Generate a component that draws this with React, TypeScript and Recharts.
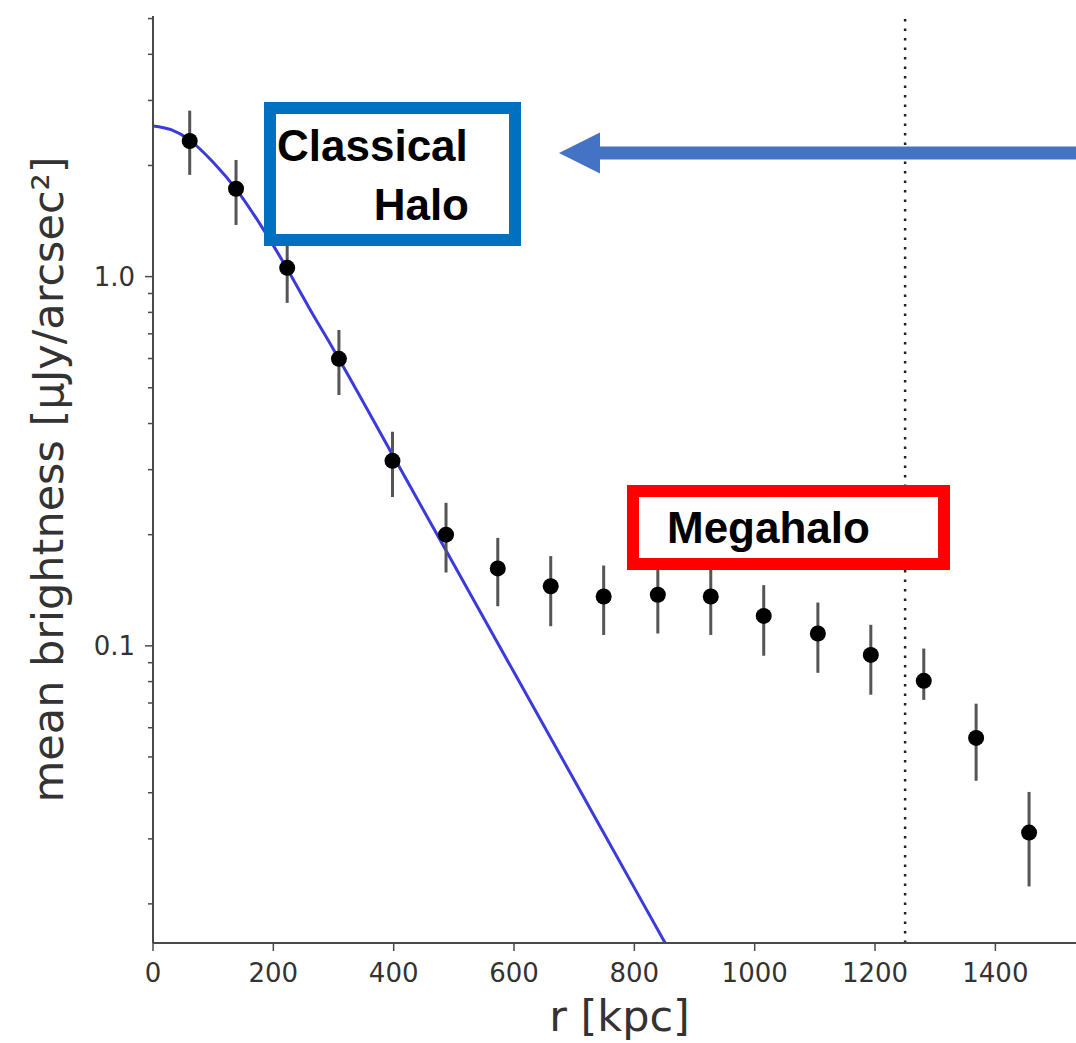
import { ComposedChart, Line, Scatter, ErrorBar, XAxis, YAxis, ReferenceLine } from "recharts";

// stacked radial profile: bins in kpc, brightness in uJy/arcsec^2
const radiusKpc = [61, 138, 223, 309, 398, 487, 573, 661, 749, 839, 927, 1015, 1105, 1193, 1281, 1368, 1456];
const meanBrightness = [2.33, 1.73, 1.056, 0.599, 0.317, 0.2, 0.162, 0.145, 0.136, 0.1375, 0.136, 0.1205, 0.108, 0.0945, 0.0804, 0.0563, 0.0312];
const brightnessLow = [1.886, 1.38, 0.849, 0.478, 0.253, 0.158, 0.128, 0.113, 0.107, 0.108, 0.107, 0.094, 0.0845, 0.0737, 0.0714, 0.0431, 0.0223];
const brightnessHigh = [2.815, 2.07, 1.313, 0.717, 0.38, 0.244, 0.196, 0.175, 0.165, 0.166, 0.166, 0.146, 0.131, 0.114, 0.0983, 0.0697, 0.0402];

// classical halo model curve
const fitRadius = [0, 30, 60, 100, 140, 180, 220, 260, 300, 400, 500, 600, 700, 800, 851];
const fitBrightness = [2.56, 2.5, 2.35, 2.04, 1.71, 1.37, 1.07, 0.82, 0.635, 0.325, 0.166, 0.0848, 0.0433, 0.0221, 0.0157];

const xTicks = [0, 200, 400, 600, 800, 1000, 1200, 1400];
const yMajorTicks = [0.1, 1];
const yMinorTicks = [0.02, 0.03, 0.04, 0.05, 0.06, 0.07, 0.08, 0.09, 0.2, 0.3, 0.4, 0.5, 0.6, 0.7, 0.8, 0.9, 2, 3, 4, 5];
const megahaloEdge = 1250;

const points = radiusKpc.map((r, i) => ({
  r,
  v: meanBrightness[i],
  err: [meanBrightness[i] - brightnessLow[i], brightnessHigh[i] - meanBrightness[i]],
}));
const fit = fitRadius.map((r, i) => ({ r, v: fitBrightness[i] }));

const axisColor = "#4a4a4a";
const textColor = "#333";
const tickFont = "DejaVu Sans, sans-serif";

function YTick(props: any) {
  const { x, y, payload } = props;
  const major = yMajorTicks.includes(payload.value);
  return (
    <g>
      <line x1={x - (major ? 8 : 5)} x2={x} y1={y} y2={y} stroke={axisColor} strokeWidth={1.5} />
      {major && (
        <text x={x - 18} y={y} textAnchor="end" dominantBaseline="central" fontSize={26} fontFamily={tickFont} fill={textColor}>
          {payload.value === 1 ? "1.0" : "0.1"}
        </text>
      )}
    </g>
  );
}

function XTick(props: any) {
  const { x, y, payload } = props;
  return (
    <g>
      <line x1={x} x2={x} y1={y} y2={y + 8} stroke={axisColor} strokeWidth={1.5} />
      <text x={x} y={y + 39} textAnchor="middle" fontSize={26} fontFamily={tickFont} fill={textColor}>
        {payload.value}
      </text>
    </g>
  );
}

function YTitle(props: any) {
  const { viewBox } = props;
  const cy = viewBox.y + viewBox.height / 2;
  return (
    <text
      transform={`translate(63, ${cy}) rotate(-90)`}
      textAnchor="middle"
      fontSize={43}
      fontFamily={tickFont}
      fill={textColor}
    >
      mean brightness [{"\u03bc"}Jy/arcsec{"\u00b2"}]
    </text>
  );
}

const Dot = (props: any) => <circle cx={props.cx} cy={props.cy} r={8} fill="#000" />;

const boldFont = "Liberation Sans, Arial, Helvetica, sans-serif";

export default function App() {
  return (
    <div style={{ position: "absolute", left: 0, top: 0, width: 1076, height: 1043, background: "#fff" }}>
      <ComposedChart width={1076} height={1043} margin={{ top: 16, right: 0, bottom: 0, left: 0 }}>
        <XAxis
          xAxisId="top"
          orientation="top"
          dataKey="r"
          type="number"
          domain={[0, 1534]}
          height={0}
          tick={false}
          tickLine={false}
          axisLine={{ stroke: "#666", strokeWidth: 2 }}
        />
        <XAxis
          dataKey="r"
          type="number"
          domain={[0, 1534]}
          allowDataOverflow
          ticks={xTicks}
          height={100}
          tickSize={0}
          tickMargin={0}
          tick={<XTick />}
          axisLine={{ stroke: axisColor, strokeWidth: 2 }}
          label={{ value: "r [kpc]", position: "insideBottom", offset: 12, fontSize: 43, fontFamily: tickFont, fill: textColor, dx: 5 }}
        />
        <YAxis
          scale="log"
          type="number"
          domain={[0.01567, 5.08]}
          allowDataOverflow
          ticks={[...yMinorTicks, ...yMajorTicks].sort((a, b) => a - b)}
          interval={0}
          width={153}
          tickSize={0}
          tickMargin={0}
          tick={<YTick />}
          axisLine={{ stroke: axisColor, strokeWidth: 2 }}
          label={<YTitle />}
        />
        <ReferenceLine x={megahaloEdge} stroke="#222" strokeWidth={2.5} strokeDasharray="2.5 7" />
        <Line
          data={fit}
          dataKey="v"
          type="monotone"
          stroke="#3b3bdc"
          strokeWidth={3}
          dot={false}
          isAnimationActive={false}
        />
        <Scatter data={points} dataKey="v" shape={<Dot />} isAnimationActive={false}>
          <ErrorBar dataKey="err" direction="y" width={0} stroke="#555" strokeWidth={3} />
        </Scatter>
      </ComposedChart>
      <svg width={1076} height={1043} style={{ position: "absolute", left: 0, top: 0, pointerEvents: "none" }}>
        <rect x={270} y={108} width={245} height={132} fill="#fff" stroke="#0070C0" strokeWidth={12} />
        <text x={277} y={161} fontSize={44} fontWeight="bold" fontFamily={boldFont} fill="#000">Classical</text>
        <text x={469} y={220} textAnchor="end" fontSize={44} fontWeight="bold" fontFamily={boldFont} fill="#000">Halo</text>
        <rect x={598} y={146.5} width={478} height={13} fill="#4472C4" />
        <polygon points="559,153 600,132.5 600,173.5" fill="#4472C4" />
        <rect x={633} y={491} width={311} height={73} fill="#fff" stroke="#FF0000" strokeWidth={12} />
        <text x={667} y={543} fontSize={44} fontWeight="bold" fontFamily={boldFont} fill="#000">Megahalo</text>
      </svg>
    </div>
  );
}
